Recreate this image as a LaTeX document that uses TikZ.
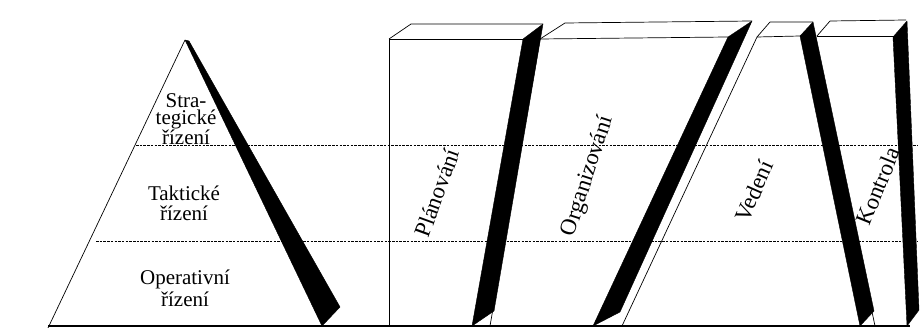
\documentclass[tikz,border=0pt]{standalone}
\usepackage{fontspec}
\setmainfont{Liberation Serif}
\begin{document}
\begin{tikzpicture}[x=1pt,y=-1pt,
  edge/.style={line width=0.7pt,line join=round},
  level/.style={line width=0.6pt,dash pattern=on 2.5pt off 1.2pt},
  shade/.style={fill=black,draw=black,line width=0.4pt,line join=round},
  pyrtext/.style={align=center,inner sep=0pt,font=\fontsize{21}{20}\selectfont},
  colname/.style={inner sep=0pt,font=\fontsize{23}{23}\selectfont}]
\useasboundingbox (0,0) rectangle (921,328);
% levels
\draw[level] (136,145) -- (918,145);
\draw[level] (96,241) -- (918,241);
% base
\draw[line width=1.1pt] (48,326) -- (910,326);
% pyramid
\draw[edge] (185,40) -- (48,328);
\fill[shade] (185,40) -- (189,41) -- (340,307) -- (322,326) -- cycle;
% box 1
\draw[edge] (389,326) -- (389,39) -- (523,39);
\draw[edge] (389,39) -- (411,24) -- (543,24);
% box 2
\draw[edge] (540,39) -- (490,326);
\draw[edge] (540,39) -- (565,23) -- (752,21);
\draw[edge] (540,39) -- (728,37);
\fill[shade] (523,39) -- (543,24) -- (494,311) -- (472,326) -- cycle;
% box 3
\draw[edge] (757,37) -- (622,326);
\draw[edge] (757,37) -- (770,22) -- (813,22);
\draw[edge] (757,37) -- (800,36);
\fill[shade] (728,37) -- (752,21) -- (620,312) -- (593,326) -- cycle;
% box 4
\draw[edge] (814,36) -- (875,326);
\draw[edge] (817,36) -- (830,21) -- (906,20);
\draw[edge] (817,36) -- (894,36);
\fill[shade] (800,36) -- (813,22) -- (874,311) -- (860,326) -- cycle;
\fill[shade] (893,37) -- (907,21) -- (919,310) -- (907,326) -- cycle;
% pyramid labels
\node[pyrtext,font=\fontsize{21}{17}\selectfont] (strat) at (186,119) {Stra-\\tegické\\řízení};
\node[pyrtext] (takt) at (184,203) {Taktické\\řízení};
\node[pyrtext,font=\fontsize{21}{22}\selectfont] (oper) at (185,288) {Operativní\\řízení};
% column labels
\node[colname,rotate=70] (plan) at (437,193) {Plánování};
\node[colname,rotate=72] (org) at (588,176) {Organizování};
\node[colname,rotate=66] (ved) at (754,191) {Vedení};
\node[colname,rotate=68] (kon) at (878,186) {Kontrola};
\end{tikzpicture}
\end{document}
